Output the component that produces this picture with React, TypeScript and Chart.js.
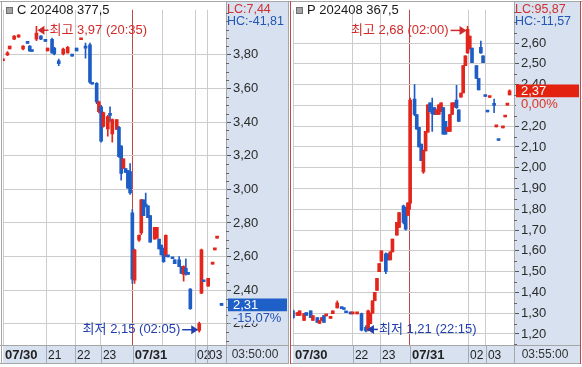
import React, { useEffect, useRef } from 'react';
import { Chart, registerables } from 'chart.js';

Chart.register(...registerables);

const FONT = '"Liberation Sans", "Noto Sans CJK KR", Arial, sans-serif';
const UP = '#e2261c';
const DOWN = '#1e5dc6';
const GRID = '#cccccc';
const DAYLINE = '#c24848';
const PANEL_BG = '#d7e1ef';
const SEP = '#a3abb8';
const HI_COLOR = '#d02a2a';
const LO_COLOR = '#1f3fae';

// ---------- Left panel (call 377.5) ----------
const leftTitle = 'C 202408 377,5';
const leftLC = 'LC:7,44';
const leftHC = 'HC:-41,81';
const leftIdx = [0, 2, 3, 5, 7, 9, 11, 12, 13, 15, 17, 19, 20, 22, 23, 25, 27, 29, 31, 33, 35, 37, 39, 40, 42, 43, 44, 45, 47, 48, 49, 51, 52, 53, 54, 55, 56, 57, 58, 59, 61, 62, 63, 64, 65, 66, 68, 69, 70, 71, 72, 73, 74, 76, 77, 79, 80, 81, 82, 83, 84, 88, 89, 90, 92, 94, 95, 96, 98];
const leftOpen = [3.765, 3.8, 3.835, 3.893, 3.905, 3.835, 3.872, 3.852, 3.825, 3.893, 3.911, 3.885, 3.823, 3.893, 3.841, 3.765, 3.806, 3.812, 3.797, 3.841, 3.89, 3.85, 3.86, 3.637, 3.631, 3.462, 3.491, 3.374, 3.36, 3.45, 3.33, 3.357, 3.369, 3.258, 3.124, 3.124, 3.112, 3.106, 2.86, 2.46, 2.698, 2.74, 2.937, 2.91, 2.902, 2.844, 2.704, 2.71, 2.704, 2.669, 2.645, 2.61, 2.603, 2.59, 2.58, 2.581, 2.54, 2.494, 2.53, 2.5, 2.406, 2.16, 2.383, 2.455, 2.424, 2.555, 2.64, 2.71, 2.315];
const leftHigh = [3.775, 3.82, 3.852, 3.915, 3.92, 3.855, 3.872, 3.855, 3.825, 3.97, 3.915, 3.885, 3.841, 3.9, 3.845, 3.775, 3.84, 3.85, 3.797, 3.841, 3.895, 3.87, 3.87, 3.637, 3.635, 3.525, 3.5, 3.46, 3.44, 3.491, 3.42, 3.415, 3.375, 3.26, 3.182, 3.124, 3.112, 3.153, 2.88, 2.645, 2.73, 2.94, 2.937, 2.978, 2.902, 2.844, 2.774, 2.774, 2.704, 2.669, 2.65, 2.73, 2.603, 2.59, 2.58, 2.6, 2.54, 2.545, 2.587, 2.5, 2.41, 2.21, 2.645, 2.455, 2.47, 2.56, 2.645, 2.715, 2.315];
const leftLow = [3.765, 3.795, 3.835, 3.89, 3.905, 3.83, 3.868, 3.82, 3.82, 3.885, 3.89, 3.88, 3.823, 3.81, 3.8, 3.736, 3.8, 3.81, 3.792, 3.823, 3.89, 3.78, 3.63, 3.625, 3.51, 3.455, 3.28, 3.37, 3.316, 3.404, 3.281, 3.357, 3.19, 3.054, 3.124, 3.1, 3.007, 2.97, 2.44, 2.44, 2.69, 2.73, 2.844, 2.895, 2.832, 2.686, 2.704, 2.71, 2.645, 2.61, 2.565, 2.6, 2.598, 2.587, 2.558, 2.54, 2.5, 2.453, 2.49, 2.494, 2.285, 2.15, 2.38, 2.45, 2.424, 2.555, 2.64, 2.71, 2.31];
const leftClose = [3.775, 3.812, 3.852, 3.911, 3.917, 3.852, 3.868, 3.823, 3.82, 3.93, 3.893, 3.88, 3.841, 3.812, 3.806, 3.748, 3.835, 3.845, 3.792, 3.823, 3.895, 3.84, 3.637, 3.625, 3.52, 3.52, 3.287, 3.456, 3.433, 3.44, 3.415, 3.415, 3.194, 3.094, 3.182, 3.1, 3.007, 2.978, 2.465, 2.64, 2.727, 2.937, 2.844, 2.9, 2.832, 2.686, 2.774, 2.774, 2.645, 2.61, 2.57, 2.727, 2.598, 2.587, 2.558, 2.54, 2.5, 2.54, 2.5, 2.494, 2.29, 2.202, 2.64, 2.45, 2.47, 2.56, 2.645, 2.715, 2.31];
const leftYTicks = [2.2, 2.4, 2.6, 2.8, 3.0, 3.2, 3.4, 3.6, 3.8];
const leftXTicks = [0, 19.3, 32.3, 43.9, 58.2, 71.7, 86.1, 91.5];
const leftXLabels = ['07/30', '21', '22', '23', '07/31', '', '02', '03'];
const leftTime = '03:50:00';
const leftChange = '-15,07%';
const leftHighTime = '20:35';
const leftLowTime = '02:05';

// ---------- Right panel (put 367.5) ----------
const rightTitle = 'P 202408 367,5';
const rightLC = 'LC:95,87';
const rightHC = 'HC:-11,57';
const rightIdx = [0, 2, 3, 5, 6, 8, 9, 11, 12, 13, 14, 15, 17, 18, 20, 22, 23, 24, 26, 27, 29, 31, 33, 34, 35, 36, 37, 38, 39, 40, 42, 43, 44, 45, 47, 48, 50, 51, 52, 53, 55, 56, 57, 58, 59, 60, 61, 62, 63, 64, 65, 66, 67, 68, 69, 70, 71, 72, 73, 74, 75, 76, 77, 78, 79, 80, 81, 83, 84, 85, 86, 87, 88, 89, 91, 92, 93, 95, 96, 97, 98];
const rightOpen = [1.312, 1.289, 1.289, 1.265, 1.303, 1.312, 1.265, 1.279, 1.251, 1.265, 1.289, 1.287, 1.275, 1.298, 1.326, 1.326, 1.322, 1.305, 1.299, 1.297, 1.297, 1.298, 1.232, 1.22, 1.25, 1.3, 1.36, 1.41, 1.5, 1.55, 1.586, 1.586, 1.557, 1.595, 1.675, 1.713, 1.817, 1.808, 1.77, 1.83, 2.33, 2.256, 2.194, 2.114, 1.98, 2.081, 2.171, 2.312, 2.28, 2.289, 2.256, 2.256, 2.27, 2.289, 2.223, 2.175, 2.175, 2.256, 2.293, 2.326, 2.279, 2.34, 2.36, 2.491, 2.553, 2.572, 2.576, 2.491, 2.43, 2.58, 2.539, 2.347, 2.272, 2.338, 2.31, 2.197, 2.135, 2.192, 2.244, 2.301, 2.35];
const rightHigh = [1.315, 1.303, 1.312, 1.298, 1.303, 1.312, 1.289, 1.279, 1.265, 1.279, 1.289, 1.29, 1.279, 1.312, 1.36, 1.326, 1.322, 1.305, 1.299, 1.299, 1.299, 1.3, 1.24, 1.315, 1.3, 1.359, 1.4, 1.468, 1.539, 1.6, 1.59, 1.586, 1.595, 1.657, 1.737, 1.784, 1.82, 1.81, 1.831, 2.335, 2.4, 2.256, 2.194, 2.114, 2.085, 2.175, 2.303, 2.312, 2.335, 2.289, 2.279, 2.303, 2.312, 2.289, 2.223, 2.194, 2.256, 2.312, 2.312, 2.397, 2.279, 2.359, 2.491, 2.539, 2.68, 2.633, 2.576, 2.491, 2.43, 2.61, 2.539, 2.347, 2.272, 2.342, 2.33, 2.202, 2.135, 2.196, 2.248, 2.305, 2.375];
const rightLow = [1.275, 1.289, 1.289, 1.265, 1.289, 1.279, 1.265, 1.256, 1.251, 1.265, 1.256, 1.287, 1.275, 1.298, 1.325, 1.322, 1.318, 1.302, 1.297, 1.297, 1.297, 1.215, 1.21, 1.215, 1.25, 1.3, 1.36, 1.41, 1.5, 1.55, 1.49, 1.557, 1.557, 1.595, 1.675, 1.713, 1.73, 1.7, 1.77, 1.8, 2.25, 2.185, 2.1, 2.034, 1.973, 2.081, 2.171, 2.27, 2.175, 2.256, 2.256, 2.256, 2.27, 2.161, 2.161, 2.175, 2.175, 2.256, 2.293, 2.285, 2.223, 2.34, 2.36, 2.491, 2.55, 2.572, 2.506, 2.43, 2.374, 2.55, 2.506, 2.343, 2.268, 2.338, 2.265, 2.197, 2.131, 2.192, 2.244, 2.301, 2.35];
const rightClose = [1.279, 1.303, 1.312, 1.298, 1.289, 1.279, 1.289, 1.256, 1.265, 1.279, 1.256, 1.29, 1.279, 1.312, 1.35, 1.322, 1.318, 1.302, 1.297, 1.299, 1.299, 1.218, 1.215, 1.312, 1.3, 1.359, 1.4, 1.468, 1.539, 1.6, 1.501, 1.557, 1.595, 1.657, 1.737, 1.784, 1.737, 1.704, 1.831, 2.326, 2.256, 2.185, 2.1, 2.034, 2.081, 2.175, 2.303, 2.27, 2.26, 2.256, 2.279, 2.303, 2.312, 2.161, 2.161, 2.194, 2.256, 2.312, 2.312, 2.289, 2.223, 2.359, 2.491, 2.539, 2.666, 2.633, 2.506, 2.43, 2.374, 2.553, 2.506, 2.343, 2.268, 2.342, 2.3, 2.202, 2.131, 2.196, 2.248, 2.305, 2.37];
const rightYTicks = [1.2, 1.3, 1.4, 1.5, 1.6, 1.7, 1.8, 1.9, 2.0, 2.1, 2.2, 2.3, 2.4, 2.5, 2.6];
const rightXTicks = [0, 27.1, 39.4, 52.9, 79.2, 87.3];
const rightXLabels = ['07/30', '22', '23', '07/31', '02', '03'];
const rightTime = '03:55:00';
const rightChange = '0,00%';
const rightHighTime = '02:00';
const rightLowTime = '22:15';

type Panel = {
  key: string; title: string; lc: string; hc: string;
  idx: number[]; open: number[]; high: number[]; low: number[]; close: number[];
  yTicks: number[]; minorStep: number; yMin: number; yMax: number;
  xTicks: number[]; xLabels: string[]; xMax: number;
  time: string; change: string; highTime: string; lowTime: string;
  boxColor: string; changeColor: string;
  width: number; padLeft: number; axisW: number; frameLeft: number; sideColor: string;
};

const leftPanel: Panel = {
  key: 'L', title: leftTitle, lc: leftLC, hc: leftHC,
  idx: leftIdx, open: leftOpen, high: leftHigh, low: leftLow, close: leftClose,
  yTicks: leftYTicks, minorStep: 0.05, yMin: 2.074, yMax: 4.068,
  xTicks: leftXTicks, xLabels: leftXLabels, xMax: 100,
  time: leftTime, change: leftChange, highTime: leftHighTime, lowTime: leftLowTime,
  boxColor: '#1f5fc8', changeColor: '#2050b8',
  width: 290, padLeft: 3, axisW: 62, frameLeft: 1.5, sideColor: '#a6a6a6',
};

const rightPanel: Panel = {
  key: 'R', title: rightTitle, lc: rightLC, hc: rightHC,
  idx: rightIdx, open: rightOpen, high: rightHigh, low: rightLow, close: rightClose,
  yTicks: rightYTicks, minorStep: 0.05, yMin: 1.147, yMax: 2.76,
  xTicks: rightXTicks, xLabels: rightXLabels, xMax: 100,
  time: rightTime, change: rightChange, highTime: rightHighTime, lowTime: rightLowTime,
  boxColor: '#e3220f', changeColor: '#e03020',
  width: 292, padLeft: 3, axisW: 66, frameLeft: 0.5, sideColor: '#c24848',
};

const fmt = (v: number) => v.toFixed(2).replace('.', ',');
const font = (size: number, bold = false) => `${bold ? 'bold ' : ''}${size}px ${FONT}`;

function arrowNote(ctx: CanvasRenderingContext2D, tipX: number, y: number, pointLeft: boolean, text: string, color: string) {
  ctx.save();
  ctx.fillStyle = color;
  ctx.strokeStyle = color;
  ctx.lineWidth = 1.5;
  ctx.font = font(13);
  ctx.textBaseline = 'middle';
  const d = pointLeft ? 1 : -1;
  ctx.beginPath();
  ctx.moveTo(tipX, y);
  ctx.lineTo(tipX + d * 7, y - 4.5);
  ctx.lineTo(tipX + d * 7, y + 4.5);
  ctx.closePath();
  ctx.fill();
  ctx.beginPath();
  if (pointLeft) {
    ctx.moveTo(tipX + 6, y);
    ctx.lineTo(tipX + 11, y);
    ctx.stroke();
    ctx.textAlign = 'left';
    ctx.fillText(text, tipX + 12, y);
  } else {
    ctx.moveTo(tipX - 16, y);
    ctx.lineTo(tipX - 6, y);
    ctx.stroke();
    ctx.textAlign = 'right';
    ctx.fillText(text, tipX - 18, y);
  }
  ctx.restore();
}

function decoPlugin(p: Panel) {
  return {
    id: 'deco' + p.key,
    beforeDraw(chart: any) {
      const { ctx, chartArea: a } = chart;
      const ys = chart.scales.y;
      const xs = chart.scales.x;
      ctx.save();
      ctx.fillStyle = '#ffffff';
      ctx.fillRect(0, 0, chart.width, chart.height);
      ctx.fillStyle = PANEL_BG;
      ctx.fillRect(ys.left, 2, ys.right - ys.left, xs.bottom - 2);
      ctx.fillRect(a.left, a.bottom, a.right - a.left, xs.bottom - a.bottom);
      ctx.restore();
    },
    afterDraw(chart: any) {
      const { ctx, chartArea: a } = chart;
      const ys = chart.scales.y;
      const xs = chart.scales.x;
      const axL = Math.round(ys.left);
      const axR = Math.round(ys.right);
      const barB = Math.round(xs.bottom);
      ctx.save();
      ctx.lineWidth = 1;
      ctx.strokeStyle = '#a6a6a6';
      ctx.beginPath();
      ctx.moveTo(axL + 0.5, 2); ctx.lineTo(axL + 0.5, barB);
      ctx.moveTo(0, a.bottom + 0.5); ctx.lineTo(axR, a.bottom + 0.5);
      ctx.moveTo(0, barB + 0.5); ctx.lineTo(axR + 1, barB + 0.5);
      ctx.moveTo(0, 1.5); ctx.lineTo(chart.width, 1.5);
      ctx.stroke();
      ctx.strokeStyle = SEP;
      ctx.beginPath();
      p.xTicks.forEach((v, i) => {
        if (i === 0 || !p.xLabels[i]) return;
        const x = Math.round(xs.getPixelForValue(v)) + 0.5;
        ctx.moveTo(x, a.bottom + 1); ctx.lineTo(x, barB);
      });
      ctx.stroke();
      ctx.strokeStyle = p.sideColor;
      ctx.beginPath();
      ctx.moveTo(p.frameLeft, 1); ctx.lineTo(p.frameLeft, barB + 1);
      ctx.moveTo(axR + 0.5, 1); ctx.lineTo(axR + 0.5, barB + 1);
      ctx.stroke();

      // minor ticks on the price axis
      ctx.strokeStyle = '#666';
      ctx.beginPath();
      const first = p.yTicks[0];
      for (let k = -10; k < 200; k++) {
        const v = first + k * p.minorStep;
        if (v < p.yMin || v > p.yMax) continue;
        if (p.yTicks.some((t) => Math.abs(t - v) < 1e-6)) continue;
        const y = Math.round(ys.getPixelForValue(v)) + 0.5;
        ctx.moveTo(axL, y); ctx.lineTo(axL + 3, y);
      }
      ctx.stroke();

      // title
      ctx.fillStyle = '#a4a4a4';
      ctx.fillRect(7, 8, 5, 5);
      ctx.strokeStyle = '#6e6e6e';
      ctx.strokeRect(6.5, 7.5, 6, 6);
      ctx.font = font(13);
      ctx.textBaseline = 'top';
      ctx.textAlign = 'left';
      ctx.fillStyle = '#1a1a1a';
      ctx.fillText(p.title, 17, 4);
      ctx.font = font(12.5);
      ctx.fillStyle = '#d03030';
      ctx.fillText(p.lc, axL + 1, 3);
      ctx.fillStyle = '#2456b4';
      ctx.fillText(p.hc, axL + 1, 15);

      // high / low annotations
      const n = p.idx.length;
      let hi = 0, lo = 0;
      for (let k = 1; k < n; k++) {
        if (p.high[k] > p.high[hi]) hi = k;
        if (p.low[k] < p.low[lo]) lo = k;
      }
      const mid = (a.left + a.right) / 2;
      const hx = xs.getPixelForValue(p.idx[hi]);
      const hy = ys.getPixelForValue(p.high[hi]);
      const hLeft = hx < mid;
      arrowNote(ctx, hLeft ? hx + 1 : hx - 1, hy + 4, hLeft, `최고 ${fmt(p.high[hi])} (${p.highTime})`, HI_COLOR);
      const lx = xs.getPixelForValue(p.idx[lo]);
      const ly = ys.getPixelForValue(p.low[lo]);
      const lLeft = lx < mid;
      arrowNote(ctx, lLeft ? lx + 1 : lx - 1, ly - 2.5, lLeft, `최저 ${fmt(p.low[lo])} (${p.lowTime})`, LO_COLOR);

      // current price box
      const last = p.close[n - 1];
      const py = Math.round(ys.getPixelForValue(last));
      ctx.fillStyle = p.boxColor;
      ctx.fillRect(axL + 2, py - 6.5, axR - axL - 3, 13);
      ctx.fillStyle = '#ffffff';
      ctx.textBaseline = 'middle';
      ctx.font = font(13);
      ctx.fillText(fmt(last), axL + 7, py + 0.5);
      ctx.fillStyle = PANEL_BG;
      ctx.fillRect(axL + 2, py + 6.5, axR - axL - 3, 12);
      ctx.fillStyle = p.changeColor;
      ctx.textBaseline = 'top';
      ctx.fillText(p.change, axL + 7, py + 6.5);

      // time label
      ctx.fillStyle = '#333';
      ctx.font = font(12);
      ctx.textAlign = 'center';
      ctx.textBaseline = 'middle';
      ctx.fillText(p.time, (axL + axR) / 2 - 2, (a.bottom + barB) / 2 + 0.5);
      ctx.restore();
    },
  };
}

function buildChart(canvas: HTMLCanvasElement, p: Panel) {
  const colors = p.idx.map((_, k) => (p.close[k] >= p.open[k] ? UP : DOWN));
  const bodies = p.idx.map((x, k) => ({ x, y: [p.open[k], p.close[k]] }));
  const wicks = p.idx.map((x, k) => ({ x, y: [p.low[k], p.high[k]] }));
  return new Chart(canvas, {
    type: 'bar',
    data: {
      datasets: [
        { data: wicks as any, backgroundColor: colors, barThickness: 1, grouped: false, order: 2, borderWidth: 0 } as any,
        { data: bodies as any, backgroundColor: colors, barThickness: 3, grouped: false, order: 1, minBarLength: 2, borderWidth: 0 } as any,
      ],
    },
    options: {
      animation: false,
      responsive: false,
      devicePixelRatio: 1,
      layout: { padding: { left: p.padLeft, right: 2, top: 3, bottom: 4 } },
      plugins: { legend: { display: false }, tooltip: { enabled: false } },
      scales: {
        x: {
          type: 'linear',
          min: 0,
          max: p.xMax,
          offset: false,
          afterBuildTicks: (s: any) => { s.ticks = p.xTicks.map((v) => ({ value: v })); },
          afterFit: (s: any) => { s.height = 18; },
          grid: {
            offset: false,
            drawTicks: false,
            color: (c: any) => (p.xLabels[c.index] === '07/31' ? DAYLINE : GRID),
          },
          border: { display: false },
          ticks: {
            autoSkip: false,
            maxRotation: 0,
            minRotation: 0,
            align: 'start',
            labelOffset: 2,
            padding: 3,
            color: '#222',
            font: (c: any) => {
              const lab = p.xLabels[c.index] || '';
              return lab.includes('/')
                ? { family: FONT, size: 13, weight: 'bold' }
                : { family: FONT, size: 12, weight: 'normal' };
            },
            callback: (_v: any, i: number) => p.xLabels[i],
          },
        } as any,
        y: {
          type: 'linear',
          position: 'right',
          min: p.yMin,
          max: p.yMax,
          afterBuildTicks: (s: any) => { s.ticks = p.yTicks.map((v) => ({ value: v })); },
          afterFit: (s: any) => { s.width = p.axisW; },
          grid: { color: GRID, drawTicks: true, tickLength: 5, tickColor: '#555' },
          border: { display: false },
          ticks: {
            padding: 2,
            color: '#2a2a2a',
            font: { family: FONT, size: 13 },
            callback: (v: any) => fmt(Number(v)),
          },
        } as any,
      },
    },
    plugins: [decoPlugin(p)],
  } as any);
}

export default function App() {
  const leftRef = useRef<HTMLCanvasElement>(null);
  const rightRef = useRef<HTMLCanvasElement>(null);
  useEffect(() => {
    const charts: Chart[] = [];
    if (leftRef.current) charts.push(buildChart(leftRef.current, leftPanel));
    if (rightRef.current) charts.push(buildChart(rightRef.current, rightPanel));
    return () => charts.forEach((c) => c.destroy());
  }, []);
  return (
    <div style={{ position: 'fixed', left: 0, top: 0, width: 582, height: 367, background: '#ffffff', overflow: 'hidden' }}>
      <canvas ref={leftRef} width={leftPanel.width} height={367} style={{ position: 'absolute', left: 0, top: 0, width: leftPanel.width, height: 367 }} />
      <canvas ref={rightRef} width={rightPanel.width} height={367} style={{ position: 'absolute', left: 290, top: 0, width: rightPanel.width, height: 367 }} />
    </div>
  );
}
